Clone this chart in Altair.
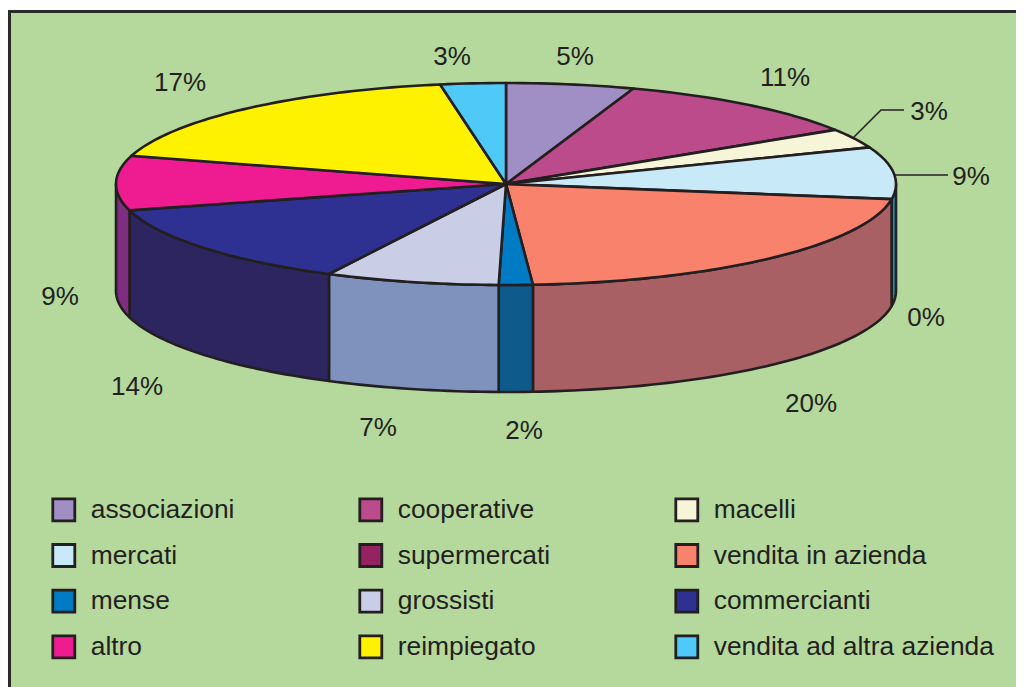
import math
import altair as alt

# ---- data -----------------------------------------------------------------
categories = ["associazioni", "cooperative", "macelli", "mercati", "supermercati",
              "vendita in azienda", "mense", "grossisti", "commercianti", "altro",
              "reimpiegato", "vendita ad altra azienda"]
labels = ["5%", "11%", "3%", "9%", "0%", "20%", "2%", "7%", "14%", "9%", "17%", "3%"]
# slice sizes as drawn (percent of the turn)
shares = [5.3, 10.7, 3.1, 8.3, 0.0, 21.5, 1.4, 7.2, 13.3, 8.7, 17.8, 2.7]
colors = ["#a08fc4", "#bc4b8b", "#f6f5d8", "#c8eaf8", "#932461", "#f9826c",
          "#007bc4", "#c9cde6", "#2e3192", "#ef1c91", "#fff200", "#4fc9f8"]
side_colors = ["#6f6490", "#843462", "#acac97", "#1d8aa5", "#671944", "#a86064",
               "#0e5a8a", "#7e92bd", "#2c2560", "#7f2d80", "#b3a900", "#3a8cb0"]

# ---- layout ---------------------------------------------------------------
W, H = 1008, 679
CX, CY, RX, RY, DEPTH = 498, 176, 390, 101, 107
INK = "#231f20"
BG = "#b5d99c"
FONT = "Liberation Sans"
label_x = [567, 777, 921, 963, 918, 803, 516, 370, 129, 52, 172, 444]
label_y = [49, 70, 104, 169, 310, 396, 423, 420, 379, 289, 75, 49]
leaders = [[(846, 129), (873, 102), (896, 102)], [(887, 167), (940, 167)]]


def pt(pct, dy=0.0):
    a = pct / 100 * 2 * math.pi
    return [CX + RX * math.sin(a), CY - RY * math.cos(a) + dy]


def arc(p0, p1, dy=0.0):
    n = max(2, int(abs(p1 - p0) * 3))
    return [pt(p0 + (p1 - p0) * i / n, dy) for i in range(n + 1)]


def feature(name, ring, side_color=None):
    return {"type": "Feature",
            "geometry": {"type": "Polygon", "coordinates": [ring + [ring[0]]]},
            "properties": {"name": name, "side": side_color}}


tops, sides = [], []
start = 0.0
for name, share, sc in zip(categories, shares, side_colors):
    end = start + share
    if share > 0:
        tops.append(feature(name, [[CX, CY]] + arc(start, end)))
        a, b = max(start, 25.0), min(end, 75.0)  # only the near half shows its wall
        if b > a:
            sides.append(feature(name, arc(a, b) + arc(b, a, DEPTH), sc))
    start = end

line = dict(stroke=INK, strokeWidth=2.6, strokeJoin="round")

frame = alt.Chart(alt.Data(values=[{"f": 1}])).mark_rect(
    fill=BG, stroke="#2b2a2b", strokeWidth=3
).encode(x=alt.value(1.5), x2=alt.value(W + 20), y=alt.value(3.5), y2=alt.value(H + 20))

side_layer = alt.Chart(alt.Data(values=sides)).mark_geoshape(**line).encode(
    fill=alt.Fill("properties.side:N", scale=None, legend=None)
).project(type="identity", scale=1, translate=[0, 0])

top_layer = alt.Chart(alt.Data(values=tops)).mark_geoshape(**line).encode(
    fill=alt.Fill(
        "properties.name:N",
        scale=alt.Scale(domain=categories, range=colors),
        legend=alt.Legend(
            title=None, orient="none", legendX=42.6, legendY=488.6, columns=3,
            direction="horizontal",
            symbolType="square", symbolSize=484, symbolStrokeColor=INK,
            symbolStrokeWidth=2.8, symbolOpacity=1, labelFont=FONT, labelFontSize=26.4,
            labelColor=INK, labelOffset=13.7, rowPadding=11.7, columnPadding=119,
            gridAlign="each", padding=0, labelLimit=400,
        ),
    )
).project(type="identity", scale=1, translate=[0, 0])

leader_rows = [{"id": i, "o": j, "x": p[0], "y": p[1]}
               for i, path in enumerate(leaders) for j, p in enumerate(path)]
leader_layer = alt.Chart(alt.Data(values=leader_rows)).mark_line(
    stroke=INK, strokeWidth=1.6
).encode(
    x=alt.X("x:Q", scale=None, axis=None), y=alt.Y("y:Q", scale=None, axis=None),
    detail="id:N", order="o:Q",
)

text_rows = [{"t": t, "x": x, "y": y} for t, x, y in zip(labels, label_x, label_y)]
text_layer = alt.Chart(alt.Data(values=text_rows)).mark_text(
    font=FONT, fontSize=26, color=INK, align="center", baseline="middle"
).encode(
    x=alt.X("x:Q", scale=None, axis=None), y=alt.Y("y:Q", scale=None, axis=None),
    text="t:N",
)

chart = alt.layer(frame, side_layer, top_layer, leader_layer, text_layer).resolve_scale(
    fill="independent"
).properties(
    width=W, height=H, padding=0, background="white",
    autosize=alt.AutoSizeParams(type="none"),
).configure_view(stroke=None)

chart.save("out.html", embed_options={"renderer": "svg", "actions": False})
